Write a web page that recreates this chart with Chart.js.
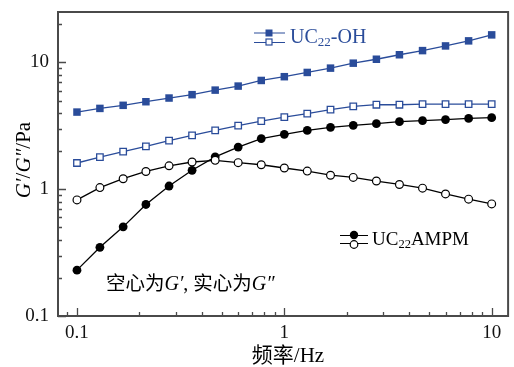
<!DOCTYPE html>
<html>
<head>
<meta charset="utf-8">
<script src="https://cdn.jsdelivr.net/npm/chart.js@4.4.1/dist/chart.umd.min.js"></script>
<style>
  html, body { margin: 0; padding: 0; background: #ffffff; }
  #wrap { width: 514px; height: 367px; }
</style>
</head>
<body>
<div id="wrap"><canvas id="c" width="514" height="367"></canvas></div>
<script>
// ---------------- data ----------------
const frequencyHz = [0.1, 0.129, 0.167, 0.215, 0.278, 0.359, 0.464, 0.599, 0.774, 1, 1.29, 1.67, 2.15, 2.78, 3.59, 4.64, 5.99, 7.74, 10];
// UC22-OH (filled squares = G'', open squares = G')
const ohFilled = [4.06, 4.34, 4.59, 4.90, 5.24, 5.57, 6.05, 6.51, 7.21, 7.72, 8.34, 9.02, 9.87, 10.6, 11.5, 12.4, 13.5, 14.8, 16.5];
const ohOpen   = [1.61, 1.79, 1.98, 2.18, 2.42, 2.66, 2.91, 3.17, 3.45, 3.71, 3.95, 4.24, 4.50, 4.64, 4.64, 4.69, 4.69, 4.69, 4.69];
// UC22AMPM (filled circles = G'', open circles = G')
const ampmFilled = [0.230, 0.348, 0.505, 0.758, 1.06, 1.41, 1.80, 2.15, 2.51, 2.71, 2.91, 3.08, 3.19, 3.29, 3.41, 3.48, 3.54, 3.62, 3.67];
const ampmOpen   = [0.824, 1.03, 1.21, 1.38, 1.53, 1.64, 1.69, 1.62, 1.56, 1.47, 1.39, 1.29, 1.24, 1.16, 1.09, 1.02, 0.918, 0.835, 0.766];
const xTickLabels = ['0.1', '1', '10'];
const yTickLabels = ['0.1', '1', '10'];
const seriesNames = ['UC22-OH', 'UC22AMPM'];

// ---------------- style ----------------
const BLUE = '#2a4c9a';
const BLACK = '#000000';
const FRAME = '#4a4a4a';
const SERIF = '"Liberation Serif", "Times New Roman", serif';
const CJK = '"Noto Sans CJK SC", sans-serif';

function pts(arr) { return frequencyHz.map((f, i) => ({ x: f, y: arr[i] })); }

function isDecade(v) { const l = Math.log10(v); return Math.abs(l - Math.round(l)) < 1e-6; }
function isWholeSignificand(v) {
  const e = Math.floor(Math.log10(v) + 1e-9);
  const s = v / Math.pow(10, e);
  return Math.abs(s - Math.round(s)) < 1e-6;
}

function runsWidth(ctx, runs) {
  let w = 0;
  for (const r of runs) { ctx.font = r.font; w += ctx.measureText(r.t).width; }
  return w;
}
function drawRuns(ctx, runs, x, y) {
  let cx = x;
  for (const r of runs) {
    ctx.font = r.font;
    ctx.fillText(r.t, cx, y + (r.dy || 0));
    cx += ctx.measureText(r.t).width;
  }
  return cx - x;
}

const decorPlugin = {
  id: 'decor',
  afterDraw(chart) {
    const ctx = chart.ctx;
    const a = chart.chartArea;
    const xs = chart.scales.x, ys = chart.scales.y;
    ctx.save();
    // inward tick marks
    ctx.strokeStyle = FRAME;
    ctx.lineWidth = 1.3;
    ctx.beginPath();
    xs.ticks.forEach(t => {
      const v = t.value;
      if (v < xs.min || v > xs.max || !isWholeSignificand(v)) return;
      const px = Math.round(xs.getPixelForValue(v)) + 0.5;
      const len = isDecade(v) ? 8 : 4;
      ctx.moveTo(px, a.bottom); ctx.lineTo(px, a.bottom - len);
    });
    ys.ticks.forEach(t => {
      const v = t.value;
      if (v < ys.min || v > ys.max || !isWholeSignificand(v)) return;
      const py = Math.round(ys.getPixelForValue(v)) + 0.5;
      const len = isDecade(v) ? 8 : 4;
      ctx.moveTo(a.left, py); ctx.lineTo(a.left + len, py);
    });
    ctx.stroke();
    // frame
    ctx.lineWidth = 2;
    ctx.strokeStyle = FRAME;
    ctx.strokeRect(a.left, a.top, a.right - a.left, a.bottom - a.top);

    ctx.textAlign = 'left';
    ctx.textBaseline = 'alphabetic';

    // legend 1: UC22-OH
    ctx.strokeStyle = BLUE; ctx.fillStyle = BLUE; ctx.lineWidth = 1.2;
    ctx.beginPath();
    ctx.moveTo(254, 33); ctx.lineTo(285, 33);
    ctx.moveTo(254, 42.5); ctx.lineTo(285, 42.5);
    ctx.stroke();
    ctx.fillRect(265.5, 29.5, 7, 7);
    ctx.fillStyle = '#ffffff';
    ctx.fillRect(266, 39, 6, 6);
    ctx.strokeRect(266, 39, 6, 6);
    ctx.fillStyle = BLUE;
    drawRuns(ctx, [
      { t: 'UC', font: '20px ' + SERIF },
      { t: '22', font: '13px ' + SERIF, dy: 3 },
      { t: '-OH', font: '20px ' + SERIF }
    ], 290, 43);

    // legend 2: UC22AMPM
    ctx.strokeStyle = BLACK; ctx.fillStyle = BLACK; ctx.lineWidth = 1.2;
    ctx.beginPath();
    ctx.moveTo(340, 235.5); ctx.lineTo(368, 235.5);
    ctx.moveTo(340, 243.5); ctx.lineTo(368, 243.5);
    ctx.stroke();
    ctx.beginPath(); ctx.arc(354, 235, 4.2, 0, Math.PI * 2); ctx.fill();
    ctx.beginPath(); ctx.arc(354, 244.5, 3.8, 0, Math.PI * 2);
    ctx.fillStyle = '#ffffff'; ctx.fill(); ctx.stroke();
    ctx.fillStyle = BLACK;
    drawRuns(ctx, [
      { t: 'UC', font: '19px ' + SERIF },
      { t: '22', font: '12.5px ' + SERIF, dy: 3 },
      { t: 'AMPM', font: '19px ' + SERIF }
    ], 372, 245);

    // annotation
    drawRuns(ctx, [
      { t: '空心为', font: '19.5px ' + CJK },
      { t: 'G\u2032', font: 'italic 20px ' + SERIF },
      { t: ', ', font: '20px ' + SERIF },
      { t: '实心为', font: '19.5px ' + CJK },
      { t: 'G\u2033', font: 'italic 20px ' + SERIF }
    ], 106, 290);

    // x axis title
    const xt = [{ t: '频率', font: '21px ' + CJK }, { t: '/Hz', font: '21px ' + SERIF }];
    const xw = runsWidth(ctx, xt);
    drawRuns(ctx, xt, 288 - xw / 2, 362);

    // y axis title
    ctx.save();
    ctx.translate(30, 160);
    ctx.rotate(-Math.PI / 2);
    const yt = [
      { t: 'G\u2032', font: 'italic 21px ' + SERIF },
      { t: '/', font: '21px ' + SERIF },
      { t: 'G\u2033', font: 'italic 21px ' + SERIF },
      { t: '/Pa', font: '21px ' + SERIF }
    ];
    const yw = runsWidth(ctx, yt);
    drawRuns(ctx, yt, -yw / 2, 0);
    ctx.restore();

    ctx.restore();
  }
};

const lineW = 1.3;
new Chart(document.getElementById('c'), {
  type: 'line',
  data: {
    datasets: [
      { label: seriesNames[0] + " G''", data: pts(ohFilled), borderColor: BLUE, backgroundColor: BLUE,
        borderWidth: lineW, pointStyle: 'rect', pointRadius: 5.3, pointBorderWidth: 0, pointBackgroundColor: BLUE, order: 1 },
      { label: seriesNames[0] + " G'", data: pts(ohOpen), borderColor: BLUE, backgroundColor: '#ffffff',
        borderWidth: lineW, pointStyle: 'rect', pointRadius: 4.6, pointBorderWidth: 1.3, pointBorderColor: BLUE, pointBackgroundColor: '#ffffff', order: 2 },
      { label: seriesNames[1] + " G'", data: pts(ampmOpen), borderColor: BLACK, backgroundColor: '#ffffff',
        borderWidth: lineW, pointStyle: 'circle', pointRadius: 3.9, pointBorderWidth: 1.2, pointBorderColor: BLACK, pointBackgroundColor: '#ffffff', order: 3 },
      { label: seriesNames[1] + " G''", data: pts(ampmFilled), borderColor: BLACK, backgroundColor: BLACK,
        borderWidth: lineW, pointStyle: 'circle', pointRadius: 4.4, pointBorderWidth: 0, pointBackgroundColor: BLACK, order: 4 }
    ]
  },
  options: {
    responsive: false,
    animation: false,
    devicePixelRatio: 1,
    layout: { padding: { top: 12, right: 2, left: 0, bottom: 0 } },
    plugins: { legend: { display: false }, tooltip: { enabled: false }, title: { display: false } },
    elements: { line: { tension: 0 } },
    scales: {
      x: {
        type: 'logarithmic', min: 0.081, max: 12, position: 'bottom',
        grid: { display: false, drawTicks: false }, border: { display: false },
        afterFit: (s) => { s.height = 51; s.paddingLeft = 0; s.paddingRight = 0; s.paddingTop = 0; s.paddingBottom = 0; },
        ticks: {
          autoSkip: false, maxRotation: 0, padding: 6, color: '#111111',
          font: { family: SERIF, size: 19 },
          callback: (v) => { const l = xTickLabels.find(t => Math.abs(parseFloat(t) - v) < 1e-9); return l || ''; }
        }
      },
      y: {
        type: 'logarithmic', min: 0.1, max: 25, position: 'left',
        grid: { display: false, drawTicks: false }, border: { display: false },
        afterFit: (s) => { s.width = 58; s.paddingTop = 0; s.paddingBottom = 0; s.paddingLeft = 0; s.paddingRight = 0; },
        ticks: {
          autoSkip: false, padding: 9, color: '#111111',
          font: { family: SERIF, size: 19 },
          callback: (v) => { const l = yTickLabels.find(t => Math.abs(parseFloat(t) - v) < 1e-9); return l || ''; }
        }
      }
    }
  },
  plugins: [decorPlugin]
});
</script>
</body>
</html>
